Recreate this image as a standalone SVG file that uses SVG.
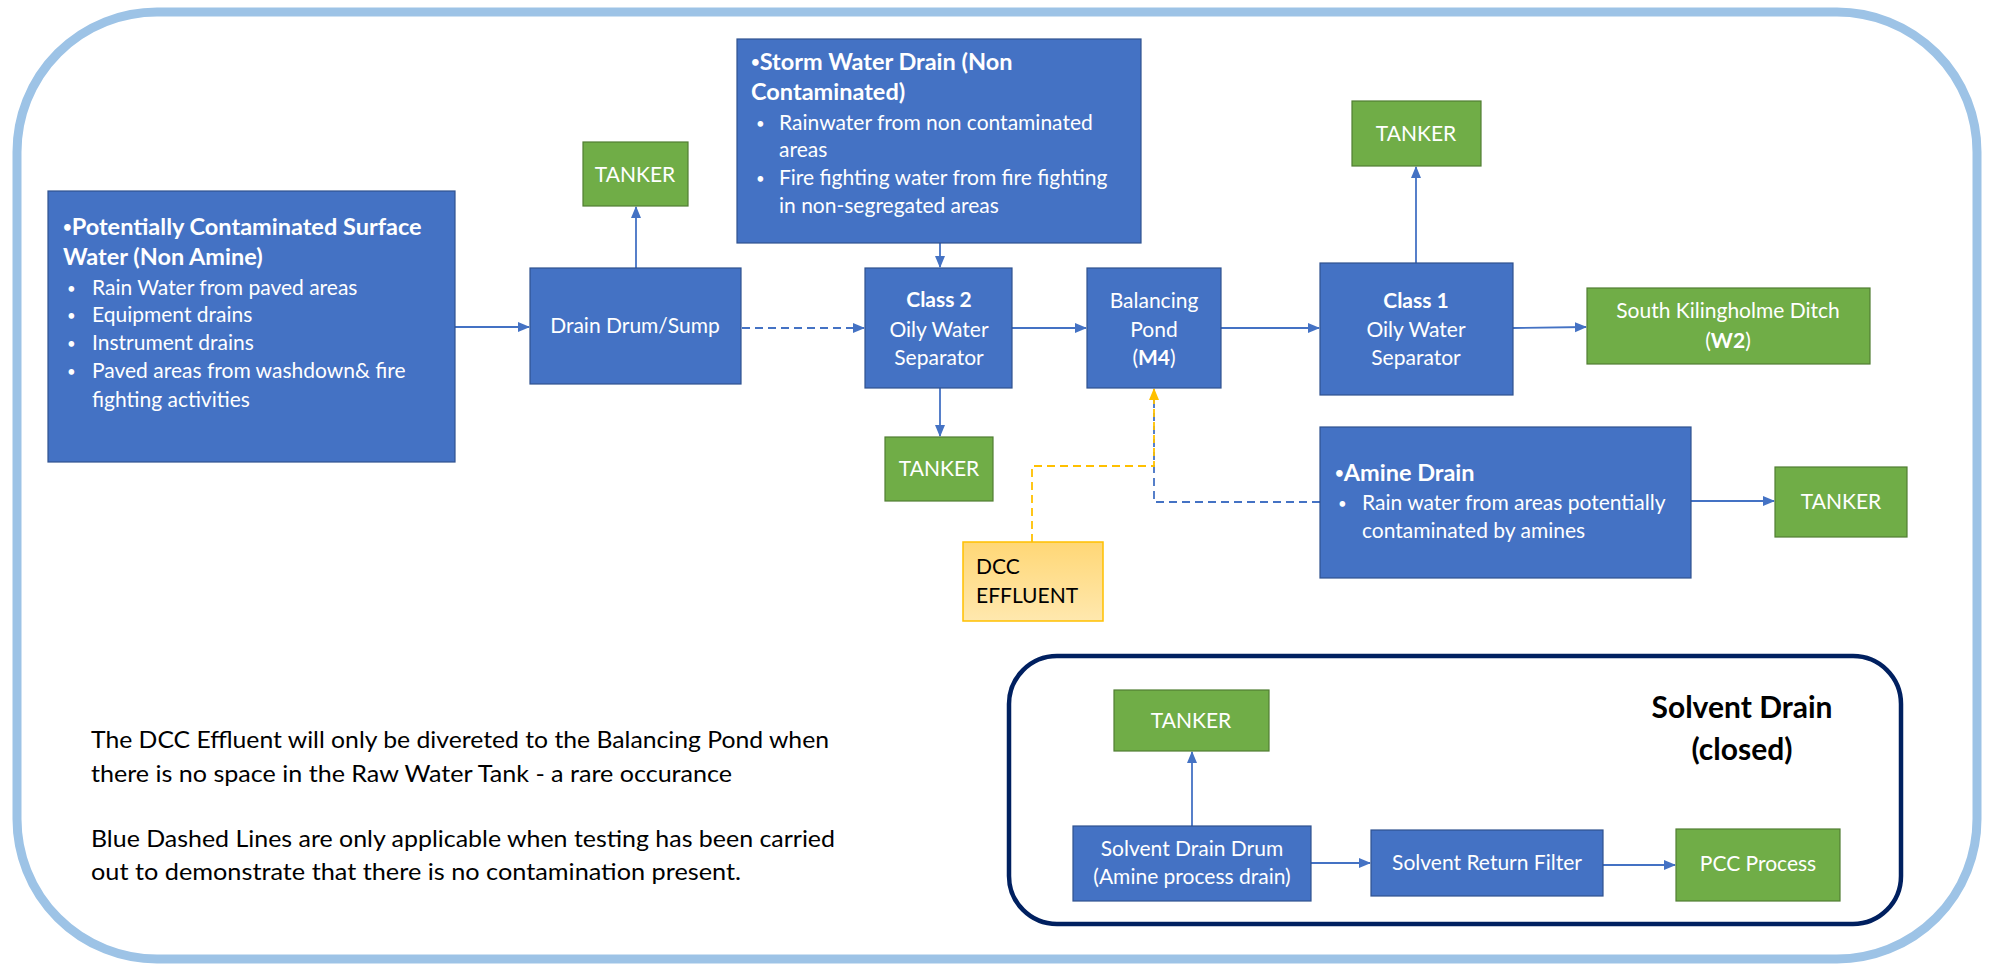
<svg xmlns="http://www.w3.org/2000/svg" width="1990" height="966" viewBox="0 0 1990 966">
<defs>
<style>
.b{fill:#4472C4;stroke:#2F528F;stroke-width:1.2}
.g{fill:#70AD47;stroke:#507E32;stroke-width:1.2}
.t{font-family:Lato,"Liberation Sans",sans-serif;font-size:21px;fill:#fff}
.tb{font-family:Lato,"Liberation Sans",sans-serif;font-size:21px;fill:#fff;font-weight:bold}
.h{font-family:Lato,"Liberation Sans",sans-serif;font-size:23.5px;fill:#fff;font-weight:bold}
.d{font-size:15px}
.c{text-anchor:middle}
.k{font-family:Lato,"Liberation Sans",sans-serif;fill:#000}
.ln{fill:none;stroke:#4472C4;stroke-width:1.8}
.dash{stroke-dasharray:8 5}
.yl{fill:none;stroke:#FFC000;stroke-width:1.8;stroke-dasharray:8 5}
</style>
<marker id="ab" markerUnits="userSpaceOnUse" markerWidth="12" markerHeight="12" viewBox="0 0 12 12" refX="11" refY="6" orient="auto"><path d="M0,1 L12,6 L0,11 Z" fill="#4472C4"/></marker>
<marker id="ay" markerUnits="userSpaceOnUse" markerWidth="12" markerHeight="12" viewBox="0 0 12 12" refX="11" refY="6" orient="auto"><path d="M0,1 L12,6 L0,11 Z" fill="#FFC000"/></marker>
<linearGradient id="yg" x1="0" y1="0" x2="0" y2="1"><stop offset="0" stop-color="#FFD776"/><stop offset="1" stop-color="#FFE8AE"/></linearGradient>
</defs>
<rect id="frame" x="17" y="12" width="1960" height="947" rx="140" ry="140" fill="#fff" stroke="#9DC3E6" stroke-width="9"/>

<g id="connectors">
<path class="ln" d="M455,327 L529,327" marker-end="url(#ab)"/>
<path class="ln" d="M636,268 L636,207" marker-end="url(#ab)"/>
<path class="ln dash" d="M742,328 L864,328" marker-end="url(#ab)"/>
<path class="ln" d="M940,243 L940,267" marker-end="url(#ab)"/>
<path class="ln" d="M1012,328 L1086,328" marker-end="url(#ab)"/>
<path class="ln" d="M940,388 L940,436" marker-end="url(#ab)"/>
<path class="ln" d="M1221,328 L1319,328" marker-end="url(#ab)"/>
<path class="ln" d="M1416,263 L1416,167" marker-end="url(#ab)"/>
<path class="ln" d="M1513,328 L1586,327" marker-end="url(#ab)"/>
<path class="ln dash" d="M1320,502 L1154,502 L1154,390"/>
<path class="yl" d="M1032,542 L1032,466 L1154,466 L1154,389" marker-end="url(#ay)"/>
<path class="ln" d="M1691,501 L1774,501" marker-end="url(#ab)"/>
<path class="ln" d="M1192,826 L1192,752" marker-end="url(#ab)"/>
<path class="ln" d="M1311,863 L1370,863" marker-end="url(#ab)"/>
<path class="ln" d="M1603,865 L1675,865" marker-end="url(#ab)"/>
</g>

<g id="potentially">
<rect class="b" x="48" y="191" width="407" height="271"/>
<text class="h" x="63" y="235"><tspan class="d" dy="-3">•</tspan><tspan dy="3">Potentially Contaminated Surface</tspan></text>
<text class="h" x="63" y="265">Water (Non Amine)</text>
<text class="t d" x="67" y="294">•</text><text class="t" x="92" y="295">Rain Water from paved areas</text>
<text class="t d" x="67" y="321">•</text><text class="t" x="92" y="322">Equipment drains</text>
<text class="t d" x="67" y="349">•</text><text class="t" x="92" y="350">Instrument drains</text>
<text class="t d" x="67" y="377">•</text><text class="t" x="92" y="378">Paved areas from washdown&amp; fire</text>
<text class="t" x="92" y="407">fighting activities</text>
</g>

<g id="drain-drum">
<rect class="b" x="530" y="268" width="211" height="116"/>
<text class="t c" x="635" y="333">Drain Drum/Sump</text>
</g>

<g id="tanker1">
<rect class="g" x="583" y="142" width="105" height="64"/>
<text class="t c" x="635" y="182">TANKER</text>
</g>

<g id="storm">
<rect class="b" x="737" y="39" width="404" height="204"/>
<text class="h" x="751" y="70"><tspan class="d" dy="-3">•</tspan><tspan dy="3">Storm Water Drain (Non</tspan></text>
<text class="h" x="751" y="100">Contaminated)</text>
<text class="t d" x="756" y="129">•</text><text class="t" x="779" y="130">Rainwater from non contaminated</text>
<text class="t" x="779" y="157">areas</text>
<text class="t d" x="756" y="184">•</text><text class="t" x="779" y="185">Fire fighting water from fire fighting</text>
<text class="t" x="779" y="213">in non-segregated areas</text>
</g>

<g id="class2">
<rect class="b" x="865" y="268" width="147" height="120"/>
<text class="tb c" x="939" y="307">Class 2</text>
<text class="t c" x="939" y="337">Oily Water</text>
<text class="t c" x="939" y="365">Separator</text>
</g>

<g id="tanker2">
<rect class="g" x="885" y="437" width="108" height="64"/>
<text class="t c" x="939" y="476">TANKER</text>
</g>

<g id="balancing">
<rect class="b" x="1087" y="268" width="134" height="120"/>
<text class="t c" x="1154" y="308">Balancing</text>
<text class="t c" x="1154" y="337">Pond</text>
<text class="t c" x="1154" y="365">(<tspan font-weight="bold">M4</tspan>)</text>
</g>

<g id="class1">
<rect class="b" x="1320" y="263" width="193" height="132"/>
<text class="tb c" x="1416" y="308">Class 1</text>
<text class="t c" x="1416" y="337">Oily Water</text>
<text class="t c" x="1416" y="365">Separator</text>
</g>

<g id="tanker3">
<rect class="g" x="1352" y="101" width="129" height="65"/>
<text class="t c" x="1416" y="141">TANKER</text>
</g>

<g id="south-kilingholme">
<rect class="g" x="1587" y="288" width="283" height="76"/>
<text class="t c" x="1728" y="318">South Kilingholme Ditch</text>
<text class="t c" x="1728" y="348">(<tspan font-weight="bold">W2</tspan>)</text>
</g>

<g id="amine">
<rect class="b" x="1320" y="427" width="371" height="151"/>
<text class="h" x="1335" y="481"><tspan class="d" dy="-3">•</tspan><tspan dy="3">Amine Drain</tspan></text>
<text class="t d" x="1338" y="509">•</text><text class="t" x="1362" y="510">Rain water from areas potentially</text>
<text class="t" x="1362" y="538">contaminated by amines</text>
</g>

<g id="tanker4">
<rect class="g" x="1775" y="467" width="132" height="70"/>
<text class="t c" x="1841" y="509">TANKER</text>
</g>

<g id="dcc">
<rect x="963" y="542" width="140" height="79" fill="url(#yg)" stroke="#FFC000" stroke-width="1.5"/>
<text class="k" font-size="21" x="976" y="574">DCC</text>
<text class="k" font-size="21" x="976" y="603">EFFLUENT</text>
</g>

<g id="notes">
<text class="k" font-size="23" x="91" y="748" textLength="738" lengthAdjust="spacingAndGlyphs">The DCC Effluent will only be divereted to the Balancing Pond when</text>
<text class="k" font-size="23" x="91" y="782" textLength="641" lengthAdjust="spacingAndGlyphs">there is no space in the Raw Water Tank - a rare occurance</text>
<text class="k" font-size="23" x="91" y="847" textLength="744" lengthAdjust="spacingAndGlyphs">Blue Dashed Lines are only applicable when testing has been carried</text>
<text class="k" font-size="23" x="91" y="880" textLength="650" lengthAdjust="spacingAndGlyphs">out to demonstrate that there is no contamination present.</text>
</g>

<g id="solvent-drain">
<rect x="1009" y="656" width="892" height="268" rx="48" ry="48" fill="none" stroke="#002060" stroke-width="4.5"/>
<text class="k c" font-size="30" font-weight="bold" x="1742" y="718">Solvent Drain</text>
<text class="k c" font-size="30" font-weight="bold" x="1742" y="760">(closed)</text>
</g>

<g id="tanker5">
<rect class="g" x="1114" y="690" width="155" height="61"/>
<text class="t c" x="1191" y="728">TANKER</text>
</g>

<g id="solvent-drum">
<rect class="b" x="1073" y="826" width="238" height="75"/>
<text class="t c" x="1192" y="856">Solvent Drain Drum</text>
<text class="t c" x="1192" y="884">(Amine process drain)</text>
</g>

<g id="solvent-filter">
<rect class="b" x="1371" y="830" width="232" height="66"/>
<text class="t c" x="1487" y="870">Solvent Return Filter</text>
</g>

<g id="pcc">
<rect class="g" x="1676" y="829" width="164" height="72"/>
<text class="t c" x="1758" y="871">PCC Process</text>
</g>
</svg>
